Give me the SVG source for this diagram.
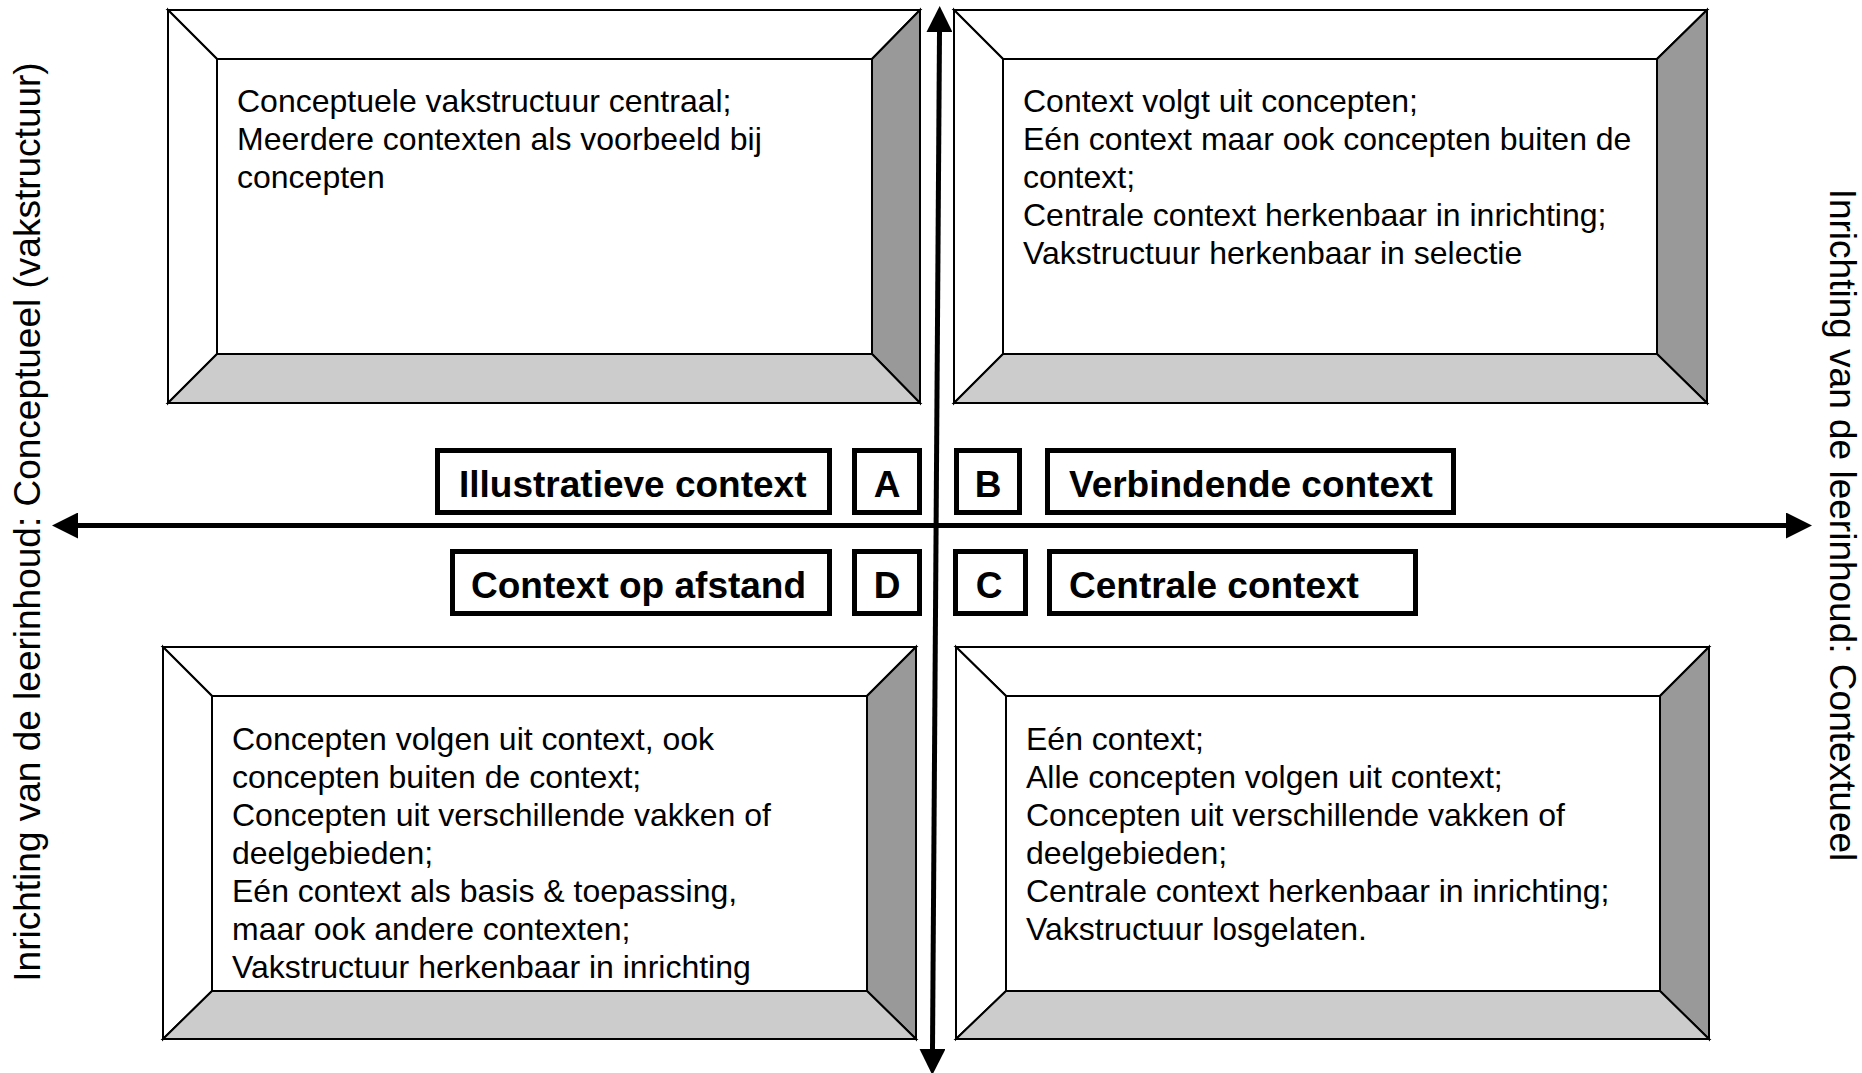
<svg xmlns="http://www.w3.org/2000/svg" width="1862" height="1073" viewBox="0 0 1862 1073">
<style>
.frame line,.frame polygon,.frame rect{stroke:#000;stroke-width:2;stroke-linejoin:miter}
.lt{fill:#fff}.rt{fill:#999}.bt{fill:#ccc}
.body{font-family:"Liberation Sans",Arial,sans-serif;font-size:32px;fill:#000}
.lbl rect{fill:#fff;stroke:#000;stroke-width:5}
.lbl text{font-family:"Liberation Sans",Arial,sans-serif;font-size:37px;font-weight:bold;fill:#000}
.side{font-family:"Liberation Sans",Arial,sans-serif;font-size:37px;fill:#000}
.axis{stroke:#000;stroke-width:5;fill:none}
</style>
<defs>
<marker id="ah" viewBox="0 0 26 26" refX="0" refY="13" markerWidth="26" markerHeight="26" markerUnits="userSpaceOnUse" orient="auto-start-reverse">
<path d="M0,0 L26,13 L0,26 Z" fill="#000"/>
</marker>
</defs>
<rect width="1862" height="1073" fill="#fff"/>

<g id="box-tl" class="frame">
<polygon class="lt" points="168,10 920,10 872,59 217,59"/>
<polygon class="lt" points="168,10 217,59 217,354 168,403"/>
<polygon class="rt" points="920,10 920,403 872,354 872,59"/>
<polygon class="bt" points="168,403 217,354 872,354 920,403"/>
<rect x="217" y="59" width="655" height="295" fill="#fff"/>
<text class="body" x="237" y="112">Conceptuele vakstructuur centraal;</text>
<text class="body" x="237" y="150">Meerdere contexten als voorbeeld bij</text>
<text class="body" x="237" y="188">concepten</text>
</g>

<g id="box-tr" class="frame">
<polygon class="lt" points="954,10 1707,10 1657,59 1003,59"/>
<polygon class="lt" points="954,10 1003,59 1003,354 954,403"/>
<polygon class="rt" points="1707,10 1707,403 1657,354 1657,59"/>
<polygon class="bt" points="954,403 1003,354 1657,354 1707,403"/>
<rect x="1003" y="59" width="654" height="295" fill="#fff"/>
<text class="body" x="1023" y="112">Context volgt uit concepten;</text>
<text class="body" x="1023" y="150">Eén context maar ook concepten buiten de</text>
<text class="body" x="1023" y="188">context;</text>
<text class="body" x="1023" y="226">Centrale context herkenbaar in inrichting;</text>
<text class="body" x="1023" y="264">Vakstructuur herkenbaar in selectie</text>
</g>

<g id="box-bl" class="frame">
<polygon class="lt" points="163,647 916,647 867,696 212,696"/>
<polygon class="lt" points="163,647 212,696 212,991 163,1039"/>
<polygon class="rt" points="916,647 916,1039 867,991 867,696"/>
<polygon class="bt" points="163,1039 212,991 867,991 916,1039"/>
<rect x="212" y="696" width="655" height="295" fill="#fff"/>
<text class="body" x="232" y="750">Concepten volgen uit context, ook</text>
<text class="body" x="232" y="788">concepten buiten de context;</text>
<text class="body" x="232" y="826">Concepten uit verschillende vakken of</text>
<text class="body" x="232" y="864">deelgebieden;</text>
<text class="body" x="232" y="902">Eén context als basis &amp; toepassing,</text>
<text class="body" x="232" y="940">maar ook andere contexten;</text>
<text class="body" x="232" y="978">Vakstructuur herkenbaar in inrichting</text>
</g>

<g id="box-br" class="frame">
<polygon class="lt" points="956,647 1709,647 1660,696 1006,696"/>
<polygon class="lt" points="956,647 1006,696 1006,991 956,1039"/>
<polygon class="rt" points="1709,647 1709,1039 1660,991 1660,696"/>
<polygon class="bt" points="956,1039 1006,991 1660,991 1709,1039"/>
<rect x="1006" y="696" width="654" height="295" fill="#fff"/>
<text class="body" x="1026" y="750">Eén context;</text>
<text class="body" x="1026" y="788">Alle concepten volgen uit context;</text>
<text class="body" x="1026" y="826">Concepten uit verschillende vakken of</text>
<text class="body" x="1026" y="864">deelgebieden;</text>
<text class="body" x="1026" y="902">Centrale context herkenbaar in inrichting;</text>
<text class="body" x="1026" y="940">Vakstructuur losgelaten.</text>
</g>

<g id="connectors">
<line class="axis" x1="939.5" y1="32" x2="932.5" y2="1049" marker-start="url(#ah)" marker-end="url(#ah)"/>
<line class="axis" x1="78" y1="525.5" x2="1786" y2="525.5" marker-start="url(#ah)" marker-end="url(#ah)"/>
</g>

<g id="label-illustratieve" class="lbl">
<rect x="437.5" y="450.5" width="392" height="62"/>
<text x="459" y="497">Illustratieve context</text>
</g>
<g id="label-a" class="lbl">
<rect x="854.5" y="450.5" width="65" height="62"/>
<text x="887" y="497" text-anchor="middle">A</text>
</g>
<g id="label-b" class="lbl">
<rect x="956.5" y="450.5" width="63" height="62"/>
<text x="988" y="497" text-anchor="middle">B</text>
</g>
<g id="label-verbindende" class="lbl">
<rect x="1047.5" y="450.5" width="406" height="62"/>
<text x="1069" y="497">Verbindende context</text>
</g>
<g id="label-afstand" class="lbl">
<rect x="452.5" y="551.5" width="377" height="62"/>
<text x="471" y="598">Context op afstand</text>
</g>
<g id="label-d" class="lbl">
<rect x="854.5" y="551.5" width="65" height="62"/>
<text x="887" y="598" text-anchor="middle">D</text>
</g>
<g id="label-c" class="lbl">
<rect x="955.5" y="551.5" width="70" height="62"/>
<text x="989" y="598" text-anchor="middle">C</text>
</g>
<g id="label-centrale" class="lbl">
<rect x="1049.5" y="551.5" width="366" height="62"/>
<text x="1069" y="598">Centrale context</text>
</g>

<g id="axis-left">
<text class="side" transform="translate(40,522) rotate(-90)" text-anchor="middle">Inrichting van de leerinhoud: Conceptueel (vakstructuur)</text>
</g>
<g id="axis-right">
<text class="side" transform="translate(1830,525) rotate(90)" text-anchor="middle">Inrichting van de leerinhoud: Contextueel</text>
</g>
</svg>
